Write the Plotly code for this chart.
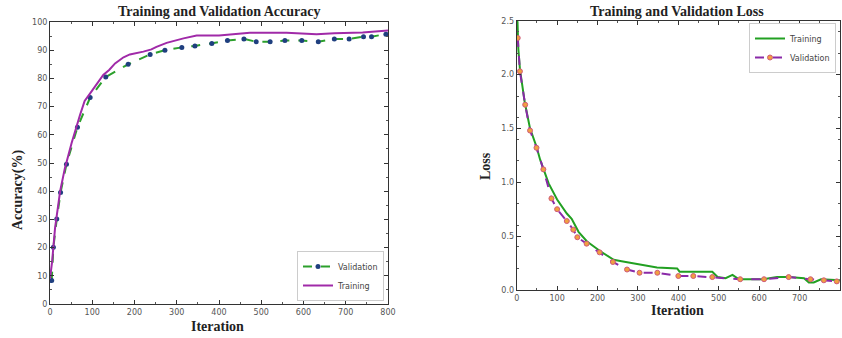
import plotly.graph_objects as go

# ---------------- data ----------------
acc_val_iter = [4, 8, 16, 25, 39, 65, 95, 132, 185, 237, 272, 312, 343, 383, 420, 459,
                488, 521, 556, 596, 635, 673, 708, 742, 761, 795]
acc_val = [8.3, 20.1, 30.1, 39.5, 49.6, 62.7, 73.2, 80.5, 85.0, 88.5, 90.0, 91.0, 91.5,
           92.4, 93.4, 94.0, 93.0, 93.0, 93.4, 93.4, 93.0, 94.0, 94.0, 94.8, 94.8, 95.7]

acc_tr_iter = [0, 5, 12, 24, 35, 51, 71, 82, 95, 106, 126, 140, 154, 174, 189, 221, 240,
               252, 276, 316, 347, 400, 473, 560, 631, 673, 740, 800]
acc_tr = [9.0, 15.0, 27.0, 40.0, 48.0, 57.0, 67.0, 72.0, 74.7, 77.0, 81.2, 83.0, 85.3,
          87.5, 88.5, 89.5, 90.3, 91.2, 92.6, 94.2, 95.2, 95.2, 96.2, 96.2, 95.7, 96.0,
          96.3, 97.0]

loss_val_iter = [2.5, 8, 21, 33, 49, 66, 86, 100, 124, 140, 150, 173, 205, 238, 273, 304,
                 348, 400, 437, 484, 553, 612, 673, 727, 760, 792]
loss_val = [2.34, 2.03, 1.72, 1.48, 1.32, 1.12, 0.85, 0.75, 0.64, 0.56, 0.49, 0.43, 0.35,
            0.26, 0.19, 0.16, 0.16, 0.13, 0.13, 0.12, 0.10, 0.10, 0.12, 0.10, 0.09, 0.08]

loss_tr_iter = [0, 2, 4, 8, 20, 33, 49, 58, 79, 100, 124, 136, 153, 174, 207, 240, 256, 289,
                322, 347, 397, 403, 484, 497, 517, 534, 550, 610, 644, 673, 711, 723, 735,
                753, 800]
loss_tr = [2.5, 2.49, 2.24, 2.05, 1.74, 1.50, 1.33, 1.21, 0.99, 0.84, 0.71, 0.66, 0.54, 0.45,
           0.36, 0.28, 0.27, 0.25, 0.23, 0.21, 0.20, 0.17, 0.17, 0.12, 0.11, 0.14, 0.10, 0.10,
           0.12, 0.12, 0.11, 0.07, 0.07, 0.10, 0.09]

acc_ticks = list(range(0, 101, 10))
loss_ticks = [0.0, 0.5, 1.0, 1.5, 2.0, 2.5]
iter_ticks = list(range(0, 801, 100))

# ---------------- figure ----------------
W, H = 842, 338
fig = go.Figure()

fig.add_trace(go.Scatter(
    x=acc_val_iter, y=acc_val, name="Validation", mode="lines+markers",
    line=dict(color="#2ca02c", width=2, dash="dash"),
    marker=dict(color="#1f3f7f", size=5, symbol="circle"),
    xaxis="x", yaxis="y", legend="legend"))
fig.add_trace(go.Scatter(
    x=acc_tr_iter, y=acc_tr, name="Training", mode="lines",
    line=dict(color="#a02aa8", width=2),
    xaxis="x", yaxis="y", legend="legend"))

fig.add_trace(go.Scatter(
    x=loss_tr_iter, y=loss_tr, name="Training", mode="lines",
    line=dict(color="#22a022", width=2),
    xaxis="x2", yaxis="y2", legend="legend2"))
fig.add_trace(go.Scatter(
    x=loss_val_iter, y=loss_val, name="Validation", mode="lines+markers",
    line=dict(color="#8a2aa8", width=2, dash="dash"),
    marker=dict(color="#f0a040", size=5, symbol="circle",
                line=dict(color="#d05a7a", width=1)),
    xaxis="x2", yaxis="y2", legend="legend2"))

def px_x(p):
    return p / W

def px_y(p):
    return (H - p) / H

tickfont = dict(family="DejaVu Sans", size=8, color="#555555")
axis_common = dict(
    showgrid=False, zeroline=False, showline=True, linecolor="#333333", linewidth=1,
    mirror="allticks", ticks="inside", ticklen=4, tickcolor="#333333", tickwidth=1,
    tickfont=tickfont, automargin=False,
    minor=dict(ticks="inside", ticklen=2, tickcolor="#555555", nticks=5),
)

legend_font = dict(family="DejaVu Sans", size=8, color="#444444")
fig.update_layout(
    width=W, height=H, margin=dict(l=0, r=0, t=0, b=0),
    paper_bgcolor="white", plot_bgcolor="white",
    xaxis=dict(domain=[px_x(50), px_x(388)], range=[0, 800], tickvals=iter_ticks,
               anchor="y", **axis_common),
    yaxis=dict(domain=[px_y(304), px_y(22)], range=[0, 100], tickvals=acc_ticks,
               anchor="x", **axis_common),
    xaxis2=dict(domain=[px_x(516.7), px_x(840)], range=[0, 800], tickvals=iter_ticks,
                anchor="y2", **axis_common),
    yaxis2=dict(domain=[px_y(290), px_y(20.7)], range=[0, 2.5], tickvals=loss_ticks,
                tickformat=".1f", anchor="x2", **axis_common),
    legend=dict(x=px_x(384), y=px_y(301), xanchor="right", yanchor="bottom",
                bgcolor="white", bordercolor="#cccccc", borderwidth=1,
                font=legend_font, itemwidth=30, tracegroupgap=0),
    legend2=dict(x=px_x(836), y=px_y(23), xanchor="right", yanchor="top",
                 bgcolor="white", bordercolor="#cccccc", borderwidth=1,
                 font=legend_font, itemwidth=30, tracegroupgap=0),
    showlegend=True,
)

title_font = dict(family="Liberation Serif", size=14, color="#222222")
ann = [
    dict(text="<b>Training and Validation Accuracy</b>", x=px_x(219), y=px_y(12)),
    dict(text="<b>Training and Validation Loss</b>", x=px_x(677), y=px_y(11)),
    dict(text="<b>Iteration</b>", x=px_x(218), y=px_y(326)),
    dict(text="<b>Iteration</b>", x=px_x(677), y=px_y(310)),
]
for a in ann:
    fig.add_annotation(xref="paper", yref="paper", showarrow=False,
                       xanchor="center", yanchor="middle", font=title_font, **a)
fig.add_annotation(text="<b>Accuracy(%)</b>", xref="paper", yref="paper",
                   x=px_x(18), y=px_y(190), textangle=-90, showarrow=False,
                   xanchor="center", yanchor="middle", font=title_font)
fig.add_annotation(text="<b>Loss</b>", xref="paper", yref="paper",
                   x=px_x(486), y=px_y(166), textangle=-90, showarrow=False,
                   xanchor="center", yanchor="middle", font=title_font)

fig.write_html("out.html", config={"displayModeBar": False},
               post_script="document.body.style.margin='0';"
                           "document.body.style.overflow='hidden';")
